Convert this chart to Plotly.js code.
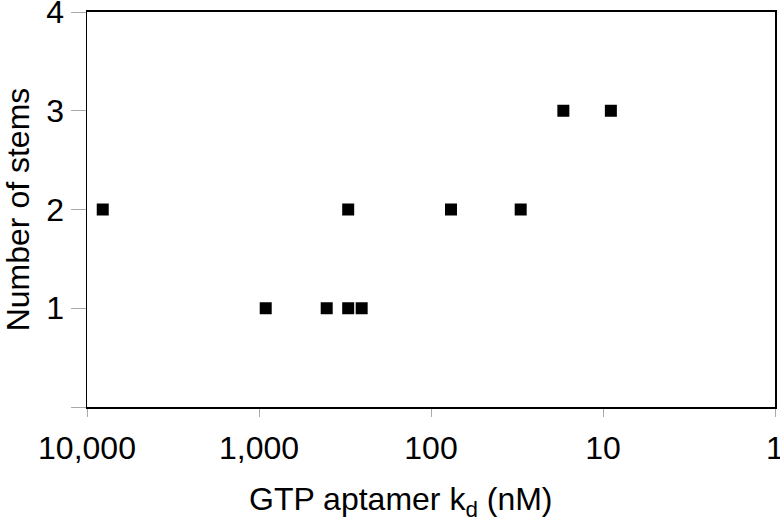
<!DOCTYPE html>
<html>
<head>
<meta charset="utf-8">
<script src="https://cdn.plot.ly/plotly-3.0.1.min.js"></script>
<style>
  html, body { margin: 0; padding: 0; background: #fff; }
  #chart { width: 780px; height: 523px; }
</style>
</head>
<body>
<div id="chart"></div>
<script>
var kd = [8100, 914, 404, 303, 303, 253, 76.5, 30.1, 17.0, 9.0];
var stems = [2, 1, 1, 2, 1, 1, 2, 2, 3, 3];

var xTickVals = [10000, 1000, 100, 10, 1];
var xTickText = ['10,000', '1,000', '100', '10', '1'];
var yTickVals = [0, 1, 2, 3, 4];
var yTickText = ['', '1', '2', '3', '4'];

var font = 'Liberation Sans, Arial, sans-serif';

var data = [{
    x: kd,
    y: stems,
    type: 'scatter',
    mode: 'markers',
    marker: { symbol: 'square', size: 12, color: '#000' },
    hoverinfo: 'x+y'
}];

var layout = {
    width: 780,
    height: 523,
    margin: { l: 87, r: 5, t: 12, b: 116 },
    paper_bgcolor: '#fff',
    plot_bgcolor: '#fff',
    showlegend: false,
    font: { family: font, size: 32, color: '#000' },
    xaxis: {
        type: 'log',
        range: [4, 0],
        tickvals: xTickVals,
        ticktext: xTickText,
        ticks: 'outside',
        ticklen: 8,
        tickwidth: 1,
        tickcolor: '#aaa',
        ticklabelstandoff: 4,
        ticklabeloverflow: 'allow',
        showgrid: false,
        zeroline: false,
        showline: true,
        linecolor: '#000',
        linewidth: 2,
        mirror: true
    },
    yaxis: {
        range: [0, 4],
        tickvals: yTickVals,
        ticktext: yTickText,
        ticks: 'outside',
        ticklen: 15,
        tickwidth: 1,
        tickcolor: '#aaa',
        ticklabelstandoff: 0,
        ticklabeloverflow: 'allow',
        showgrid: false,
        zeroline: false,
        showline: true,
        linecolor: '#000',
        linewidth: 1.5,
        mirror: true,
        title: { text: 'Number of stems', font: { size: 32 }, standoff: 8 }
    },
    annotations: [{
        text: 'GTP aptamer k<sub>d</sub> (nM)',
        xref: 'paper', yref: 'paper',
        x: 0.455, y: 0,
        xanchor: 'center', yanchor: 'top',
        yshift: -72,
        showarrow: false,
        font: { family: font, size: 32, color: '#000' }
    }]
};

Plotly.newPlot('chart', data, layout, { displayModeBar: false, staticPlot: true });
</script>
</body>
</html>
